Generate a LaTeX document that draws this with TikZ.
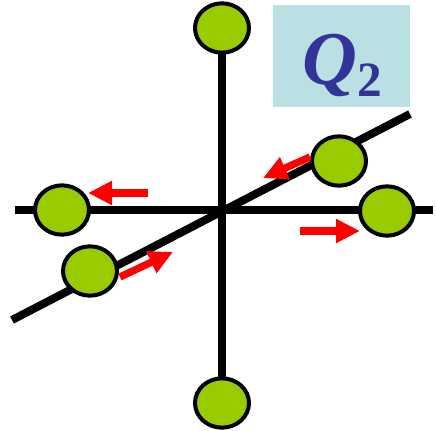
\documentclass[tikz,border=0pt]{standalone}
\usepackage{fontspec}
\setmainfont{Liberation Serif}
\usetikzlibrary{shapes.geometric,arrows.meta,backgrounds}
\definecolor{ballgreen}{RGB}{153,204,0}
\definecolor{boxblue}{RGB}{186,224,228}
\definecolor{qblue}{RGB}{51,51,153}
\tikzset{
  ball/.style={ellipse,draw=black,line width=3pt,fill=ballgreen,
    minimum width=40.5pt,minimum height=37pt,inner sep=0pt},
  axis/.style={line width=6pt},
  move/.style={red,line width=5.5pt,-{Triangle[length=18pt,width=17pt]}}
}
\begin{document}
\begin{tikzpicture}[x=0.75pt,y=-0.75pt]
                \useasboundingbox (0,0) rectangle (436,431);
                \node [fill=boxblue,minimum width=102.75pt,minimum height=76.5pt] (box) at (341.5,56) {};
                \node [anchor=base west,inner sep=0pt,text=qblue,font=\fontsize{57}{57}\selectfont\bfseries\itshape] (q) at (302,85) {Q\raisebox{-9pt}{\fontsize{37}{37}\selectfont\upshape 2}};
                % balls
                \node [ball] (top) at (222,28) {};
                \node [ball] (bottom) at (222,403) {};
                \node [ball] (left) at (62,210) {};
                \node [ball] (right) at (387,211) {};
                \node [ball] (ur) at (339,161) {};
                \node [ball] (ll) at (90,271) {};
                % axes ends
                \coordinate (w) at (15,210);
                \coordinate (e) at (433,210);
                \coordinate (sw) at (12,320);
                \coordinate (ne) at (410,114);
                \begin{scope}[on background layer]
                \draw [axis] (top.center) -- (bottom.center);
                \draw [axis] (w) -- (e);
                \draw [axis] (sw) -- (ne);
                \end{scope}
                % displacements
                \coordinate (la1) at (148,193);
                \coordinate (la2) at (88,193);
                \coordinate (ra1) at (300,231);
                \coordinate (ra2) at (360,231);
                \coordinate (ua1) at (310,157);
                \coordinate (ua2) at (263,178);
                \coordinate (da1) at (120,277);
                \coordinate (da2) at (173,252);
                \draw [move] (la1) -- (la2);
                \draw [move] (ra1) -- (ra2);
                \draw [move] (ua1) -- (ua2);
                \draw [move] (da1) -- (da2);
            \end{tikzpicture}
\end{document}
